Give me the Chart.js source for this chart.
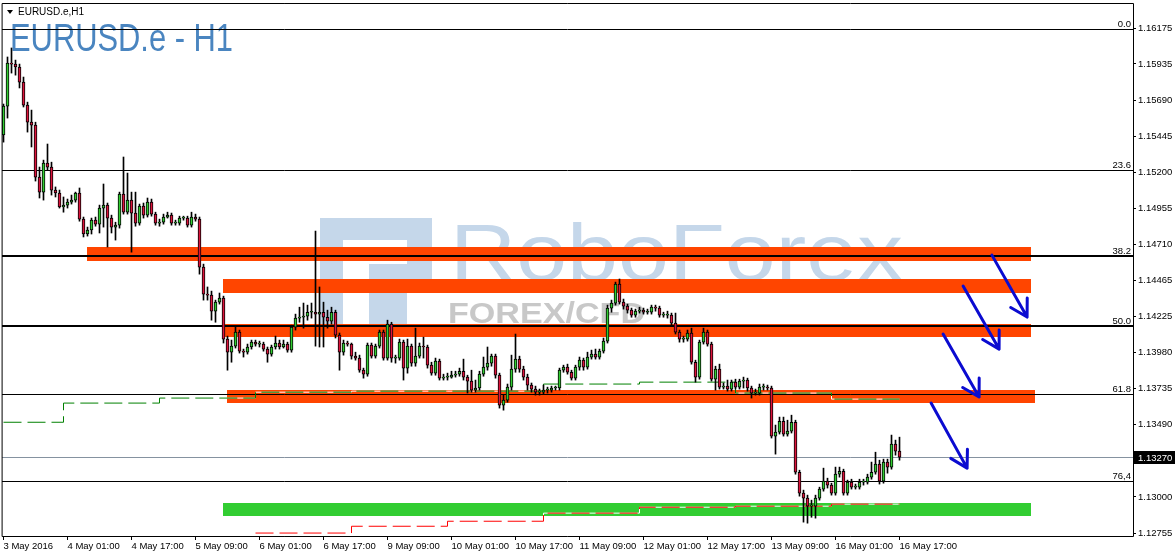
<!DOCTYPE html>
<html>
<head>
<meta charset="utf-8">
<script src="https://cdn.jsdelivr.net/npm/chart.js@4.4.1/dist/chart.umd.min.js"></script>
<style>
    html, body { margin: 0; padding: 0; background: #fff; }
    #wrap { width: 1175px; height: 558px; }
</style>
</head>
<body>
<div id="wrap"><canvas id="chart" width="1175" height="558"></canvas></div>
<script>
// EURUSD.e H1, 3 May 09:00 .. 16 May 17:00 (one bar per hour)
const opens = [
    1.15453, 1.15649, 1.15941, 1.15934, 1.15914, 1.15812, 1.15656, 1.15540, 1.15520, 1.15168,
    1.15066, 1.15263, 1.15236, 1.15080, 1.15060, 1.14965, 1.14978, 1.14998, 1.15012, 1.15060,
    1.14883, 1.14782, 1.14809, 1.14876, 1.14849, 1.14958, 1.14978, 1.14890, 1.14829, 1.14842,
    1.15053, 1.14930, 1.15012, 1.14924, 1.14856, 1.14971, 1.14910, 1.14998, 1.14917, 1.14856,
    1.14862, 1.14897, 1.14910, 1.14856, 1.14856, 1.14890, 1.14890, 1.14842, 1.14897, 1.14883,
    1.14558, 1.14375, 1.14368, 1.14259, 1.14320, 1.14348, 1.14070, 1.13981, 1.14022, 1.14117,
    1.13988, 1.13981, 1.14016, 1.14049, 1.14036, 1.14036, 1.14002, 1.13968, 1.14016, 1.14043,
    1.14016, 1.14036, 1.13995, 1.14151, 1.14212, 1.14218, 1.14225, 1.14252, 1.14252, 1.14239,
    1.14252, 1.14218, 1.14191, 1.14252, 1.14097, 1.13981, 1.14043, 1.14036, 1.13954, 1.13941,
    1.13859, 1.13832, 1.14029, 1.13954, 1.14022, 1.14117, 1.13941, 1.14171, 1.13941, 1.13941,
    1.14049, 1.13873, 1.14022, 1.13907, 1.13954, 1.14022, 1.14016, 1.13893, 1.13839, 1.13920,
    1.13805, 1.13812, 1.13812, 1.13825, 1.13832, 1.13852, 1.13812, 1.13785, 1.13724, 1.13738,
    1.13832, 1.13880, 1.13907, 1.13954, 1.13825, 1.13622, 1.13656, 1.13744, 1.13866, 1.13934,
    1.13866, 1.13812, 1.13758, 1.13731, 1.13710, 1.13710, 1.13724, 1.13724, 1.13738, 1.13738,
    1.13859, 1.13880, 1.13845, 1.13805, 1.13880, 1.13927, 1.13880, 1.13948, 1.13968, 1.13948,
    1.13988, 1.14056, 1.14280, 1.14314, 1.14443, 1.14320, 1.14293, 1.14266, 1.14232, 1.14259,
    1.14266, 1.14252, 1.14252, 1.14286, 1.14280, 1.14232, 1.14232, 1.14232, 1.14178, 1.14117,
    1.14070, 1.14070, 1.14111, 1.13913, 1.13812, 1.14049, 1.14117, 1.14036, 1.13798, 1.13866,
    1.13744, 1.13751, 1.13731, 1.13778, 1.13744, 1.13785, 1.13792, 1.13738, 1.13704, 1.13704,
    1.13744, 1.13744, 1.13738, 1.13412, 1.13439, 1.13513, 1.13426, 1.13446, 1.13506, 1.13167,
    1.13026, 1.12992, 1.12937, 1.12937, 1.12992, 1.13053, 1.13107, 1.13080, 1.13026, 1.13154,
    1.13174, 1.13026, 1.13100, 1.13066, 1.13066, 1.13100, 1.13100, 1.13134, 1.13167, 1.13222,
    1.13107, 1.13236, 1.13202, 1.13358, 1.13310
];
const highs = [
    1.15663, 1.15982, 1.16043, 1.15961, 1.15934, 1.15846, 1.15676, 1.15622, 1.15540, 1.15236,
    1.15283, 1.15392, 1.15269, 1.15101, 1.15080, 1.15033, 1.15019, 1.15046, 1.15066, 1.15094,
    1.14897, 1.14829, 1.14890, 1.14897, 1.14978, 1.15121, 1.14992, 1.14910, 1.14862, 1.15066,
    1.15304, 1.15195, 1.15066, 1.15066, 1.14985, 1.14992, 1.15026, 1.15019, 1.14930, 1.14883,
    1.14917, 1.14930, 1.14924, 1.14876, 1.14903, 1.14903, 1.14903, 1.14930, 1.14917, 1.14897,
    1.14578, 1.14423, 1.14395, 1.14334, 1.14382, 1.14361, 1.14090, 1.14063, 1.14151, 1.14131,
    1.14002, 1.14036, 1.14063, 1.14063, 1.14056, 1.14049, 1.14016, 1.14029, 1.14090, 1.14063,
    1.14063, 1.14049, 1.14164, 1.14239, 1.14286, 1.14314, 1.14300, 1.14314, 1.14802, 1.14423,
    1.14320, 1.14266, 1.14286, 1.14266, 1.14111, 1.14063, 1.14056, 1.14043, 1.13981, 1.13961,
    1.13873, 1.14043, 1.14043, 1.14036, 1.14131, 1.14131, 1.14198, 1.14184, 1.13961, 1.14070,
    1.14063, 1.14070, 1.14036, 1.14144, 1.14043, 1.14083, 1.14029, 1.13913, 1.13941, 1.13934,
    1.13832, 1.13839, 1.13852, 1.13852, 1.13873, 1.13934, 1.13825, 1.13859, 1.13792, 1.13852,
    1.13948, 1.14016, 1.13968, 1.13968, 1.13839, 1.13690, 1.13765, 1.13961, 1.14104, 1.13954,
    1.13886, 1.13832, 1.13772, 1.13751, 1.13731, 1.13758, 1.13744, 1.13751, 1.13751, 1.13873,
    1.13893, 1.13900, 1.13859, 1.13893, 1.13948, 1.13941, 1.13981, 1.13995, 1.14002, 1.14002,
    1.14077, 1.14300, 1.14334, 1.14456, 1.14477, 1.14341, 1.14307, 1.14280, 1.14273, 1.14286,
    1.14280, 1.14273, 1.14300, 1.14300, 1.14293, 1.14252, 1.14259, 1.14246, 1.14246, 1.14131,
    1.14090, 1.14131, 1.14144, 1.13927, 1.14063, 1.14144, 1.14131, 1.14049, 1.13886, 1.13900,
    1.13772, 1.13792, 1.13792, 1.13798, 1.13798, 1.13812, 1.13805, 1.13751, 1.13731, 1.13765,
    1.13765, 1.13758, 1.13751, 1.13487, 1.13541, 1.13541, 1.13520, 1.13554, 1.13520, 1.13181,
    1.13046, 1.13012, 1.12978, 1.13012, 1.13066, 1.13195, 1.13127, 1.13093, 1.13202, 1.13202,
    1.13188, 1.13114, 1.13120, 1.13087, 1.13120, 1.13120, 1.13154, 1.13236, 1.13303, 1.13249,
    1.13256, 1.13256, 1.13419, 1.13385, 1.13405
];
const lows = [
    1.15405, 1.15568, 1.15873, 1.15859, 1.15772, 1.15643, 1.15473, 1.15372, 1.15141, 1.15026,
    1.15012, 1.15215, 1.15046, 1.15033, 1.14958, 1.14930, 1.14958, 1.14985, 1.14998, 1.14869,
    1.14762, 1.14768, 1.14782, 1.14835, 1.14789, 1.14829, 1.14694, 1.14789, 1.14741, 1.14822,
    1.14917, 1.14917, 1.14659, 1.14835, 1.14842, 1.14890, 1.14897, 1.14903, 1.14842, 1.14835,
    1.14849, 1.14890, 1.14842, 1.14842, 1.14842, 1.14876, 1.14829, 1.14829, 1.14869, 1.14510,
    1.14334, 1.14334, 1.14198, 1.14184, 1.14307, 1.14043, 1.13859, 1.13913, 1.14009, 1.13975,
    1.13948, 1.13968, 1.14002, 1.14022, 1.14016, 1.13988, 1.13913, 1.13954, 1.14002, 1.14002,
    1.14009, 1.13981, 1.13981, 1.14131, 1.14184, 1.14144, 1.14198, 1.14212, 1.14022, 1.14016,
    1.14016, 1.14144, 1.14171, 1.14077, 1.13859, 1.13961, 1.14022, 1.13934, 1.13927, 1.13845,
    1.13805, 1.13818, 1.13941, 1.13941, 1.14009, 1.13927, 1.13927, 1.13913, 1.13907, 1.13927,
    1.13792, 1.13839, 1.13886, 1.13886, 1.13941, 1.13941, 1.13873, 1.13825, 1.13825, 1.13792,
    1.13792, 1.13792, 1.13805, 1.13812, 1.13818, 1.13792, 1.13704, 1.13710, 1.13710, 1.13724,
    1.13818, 1.13859, 1.13886, 1.13805, 1.13602, 1.13588, 1.13642, 1.13724, 1.13845, 1.13845,
    1.13792, 1.13724, 1.13710, 1.13690, 1.13690, 1.13697, 1.13704, 1.13710, 1.13724, 1.13724,
    1.13845, 1.13832, 1.13792, 1.13792, 1.13859, 1.13859, 1.13866, 1.13934, 1.13934, 1.13934,
    1.13975, 1.14043, 1.14252, 1.14300, 1.14307, 1.14273, 1.14246, 1.14218, 1.14218, 1.14246,
    1.14239, 1.14239, 1.14239, 1.14259, 1.14218, 1.14218, 1.14212, 1.14164, 1.14104, 1.14049,
    1.14049, 1.14056, 1.13900, 1.13778, 1.13798, 1.14036, 1.14022, 1.13785, 1.13724, 1.13731,
    1.13731, 1.13717, 1.13717, 1.13731, 1.13731, 1.13738, 1.13717, 1.13670, 1.13690, 1.13690,
    1.13724, 1.13724, 1.13399, 1.13290, 1.13426, 1.13412, 1.13412, 1.13433, 1.13154, 1.13005,
    1.12829, 1.12822, 1.12862, 1.12856, 1.12978, 1.13039, 1.13060, 1.13012, 1.13012, 1.13134,
    1.13012, 1.13012, 1.13053, 1.13053, 1.13053, 1.13080, 1.13087, 1.13120, 1.13154, 1.13087,
    1.13093, 1.13161, 1.13188, 1.13283, 1.13249
];
const closes = [
    1.15649, 1.15941, 1.15934, 1.15914, 1.15812, 1.15656, 1.15540, 1.15520, 1.15168, 1.15066,
    1.15263, 1.15236, 1.15080, 1.15060, 1.14965, 1.14978, 1.14998, 1.15012, 1.15060, 1.14883,
    1.14782, 1.14809, 1.14876, 1.14849, 1.14958, 1.14978, 1.14890, 1.14829, 1.14842, 1.15053,
    1.14930, 1.15012, 1.14924, 1.14856, 1.14971, 1.14910, 1.14998, 1.14917, 1.14856, 1.14862,
    1.14897, 1.14910, 1.14856, 1.14856, 1.14890, 1.14890, 1.14842, 1.14897, 1.14883, 1.14558,
    1.14375, 1.14368, 1.14259, 1.14320, 1.14348, 1.14070, 1.13981, 1.14022, 1.14117, 1.13988,
    1.13981, 1.14016, 1.14049, 1.14036, 1.14036, 1.14002, 1.13968, 1.14016, 1.14043, 1.14016,
    1.14036, 1.13995, 1.14151, 1.14212, 1.14218, 1.14225, 1.14252, 1.14252, 1.14239, 1.14252,
    1.14218, 1.14191, 1.14252, 1.14097, 1.13981, 1.14043, 1.14036, 1.13954, 1.13941, 1.13859,
    1.13832, 1.14029, 1.13954, 1.14022, 1.14117, 1.13941, 1.14171, 1.13941, 1.13941, 1.14049,
    1.13873, 1.14022, 1.13907, 1.13954, 1.14022, 1.14016, 1.13893, 1.13839, 1.13920, 1.13805,
    1.13812, 1.13812, 1.13825, 1.13832, 1.13852, 1.13812, 1.13785, 1.13724, 1.13738, 1.13832,
    1.13880, 1.13907, 1.13954, 1.13825, 1.13622, 1.13656, 1.13744, 1.13866, 1.13934, 1.13866,
    1.13812, 1.13758, 1.13731, 1.13710, 1.13710, 1.13724, 1.13724, 1.13738, 1.13738, 1.13859,
    1.13880, 1.13845, 1.13805, 1.13880, 1.13927, 1.13880, 1.13948, 1.13968, 1.13948, 1.13988,
    1.14056, 1.14280, 1.14314, 1.14443, 1.14320, 1.14293, 1.14266, 1.14232, 1.14259, 1.14266,
    1.14252, 1.14252, 1.14286, 1.14280, 1.14232, 1.14232, 1.14232, 1.14178, 1.14117, 1.14070,
    1.14070, 1.14111, 1.13913, 1.13812, 1.14049, 1.14117, 1.14036, 1.13798, 1.13866, 1.13744,
    1.13751, 1.13731, 1.13778, 1.13744, 1.13785, 1.13792, 1.13738, 1.13704, 1.13704, 1.13744,
    1.13744, 1.13738, 1.13412, 1.13439, 1.13513, 1.13426, 1.13446, 1.13506, 1.13167, 1.13026,
    1.12992, 1.12937, 1.12937, 1.12992, 1.13053, 1.13107, 1.13080, 1.13026, 1.13154, 1.13174,
    1.13026, 1.13100, 1.13066, 1.13066, 1.13100, 1.13100, 1.13134, 1.13167, 1.13222, 1.13107,
    1.13236, 1.13202, 1.13358, 1.13310, 1.13270
];

// axis ticks
const xTickIdx = [0, 16, 32, 48, 64, 80, 96, 112, 128, 144, 160, 176, 192, 208, 224];
const xLabels = ["3 May 2016", "4 May 01:00", "4 May 17:00", "5 May 09:00", "6 May 01:00", "6 May 17:00",
    "9 May 09:00", "10 May 01:00", "10 May 17:00", "11 May 09:00", "12 May 01:00", "12 May 17:00",
    "13 May 09:00", "16 May 01:00", "16 May 17:00"];
const yTicks = [1.16175, 1.15935, 1.15690, 1.15445, 1.15200, 1.14955, 1.14710, 1.14465, 1.14225,
    1.13980, 1.13735, 1.13490, 1.13000, 1.12755];
const lastPrice = 1.13270;

// fibonacci retracement levels
const fibLabels = ["0.0", "23.6", "38.2", "50.0", "61.8", "76,4"];
const fibPrices = [1.16171, 1.15219, 1.14634, 1.14158, 1.13697, 1.13109];

// daily step lines (start bar of each day)
const greenIdx = [0, 15, 39, 63, 87, 111, 135, 159, 183, 207, 224];
const greenVal = [1.13506, 1.13636, 1.13670, 1.13710, 1.13717, 1.13717, 1.13765, 1.13778, 1.13704, 1.13663, 1.13663];
const redIdx = [63, 87, 111, 135, 159, 183, 207, 224];
const redVal = [1.12755, 1.12801, 1.12835, 1.12890, 1.12930, 1.12937, 1.12951, 1.12951];

// zones (bar index from/to, price top/bottom)
const zoneFrom = [20.9, 54.9, 54.9, 55.9, 54.9];
const zoneTo = [256.9, 256.9, 256.9, 257.9, 256.9];
const zoneTop = [1.14694, 1.14477, 1.14171, 1.13724, 1.12958];
const zoneBottom = [1.14602, 1.14382, 1.14084, 1.13636, 1.12869];
const zoneKind = ["sell", "sell", "sell", "sell", "buy"];

// hand drawn arrows
const arrowFromIdx = [247.1, 239.9, 234.9, 231.9];
const arrowFromPrice = [1.14639, 1.14429, 1.14104, 1.13636];
const arrowToIdx = [255.9, 248.9, 243.9, 240.9];
const arrowToPrice = [1.14219, 1.14002, 1.13677, 1.13195];

const FONT = '"Liberation Sans", Arial, sans-serif';
const UP = "#32cd32";
const DOWN = "#dc143c";

const wicks = highs.map((h, i) => ({ x: i, y: [lows[i], h] }));
const bodies = opens.map((o, i) => ({ x: i, y: [o, closes[i]] }));
const bodyColors = opens.map((o, i) => (closes[i] >= o ? UP : DOWN));
const greenPts = greenIdx.map((x, i) => ({ x, y: greenVal[i] }));
const redPts = redIdx.map((x, i) => ({ x, y: redVal[i] }));

// background: watermark, title, zones, levels
const backgroundPlugin = {
    id: "background",
    beforeDatasetsDraw(chart) {
        const { ctx, chartArea: a, scales } = chart;
        const px = (v) => scales.x.getPixelForValue(v);
        const py = (v) => scales.y.getPixelForValue(v);
        ctx.save();

        // RoboForex watermark
        ctx.fillStyle = "#c5d7ea";
        ctx.fillRect(320, 218, 112, 110);
        ctx.fillStyle = "#fff";
        ctx.fillRect(343, 240, 64, 24);
        ctx.fillRect(343, 264, 26, 64);
        ctx.fillRect(407, 290, 25, 38);
        ctx.fillStyle = "#c5d7ea";
        ctx.font = "80px " + FONT;
        let w = ctx.measureText("RoboForex").width;
        ctx.save();
        ctx.translate(450, 280);
        ctx.scale(453 / w, 1);
        ctx.fillText("RoboForex", 0, 0);
        ctx.restore();
        ctx.fillStyle = "#c8c8c8";
        ctx.font = "bold 29px " + FONT;
        w = ctx.measureText("FOREX/CFD").width;
        ctx.save();
        ctx.translate(448, 323);
        ctx.scale(197 / w, 1);
        ctx.fillText("FOREX/CFD", 0, 0);
        ctx.restore();

        // big symbol title
        ctx.fillStyle = "#4a85c0";
        ctx.font = "39px " + FONT;
        w = ctx.measureText("EURUSD.e - H1").width;
        ctx.save();
        ctx.translate(10, 51);
        ctx.scale(223 / w, 1);
        ctx.fillText("EURUSD.e - H1", 0, 0);
        ctx.restore();

        // zones
        zoneFrom.forEach((f, i) => {
            const x1 = Math.round(px(f));
            const x2 = Math.round(px(zoneTo[i]));
            const y1 = Math.round(py(zoneTop[i]));
            const y2 = Math.round(py(zoneBottom[i]));
            ctx.fillStyle = zoneKind[i] === "buy" ? "#32cd32" : "#ff4500";
            ctx.fillRect(x1, y1, x2 - x1, y2 - y1);
        });

        // fibonacci lines
        ctx.strokeStyle = "#000";
        fibPrices.forEach((p, i) => {
            const thick = fibLabels[i] === "38.2" || fibLabels[i] === "50.0";
            ctx.lineWidth = thick ? 2 : 1;
            const y = thick ? Math.round(py(p)) : Math.round(py(p)) + 0.5;
            ctx.beginPath();
            ctx.moveTo(a.left, y);
            ctx.lineTo(a.right, y);
            ctx.stroke();
        });

        // last price line
        ctx.strokeStyle = "#8592a0";
        ctx.lineWidth = 1;
        const yl = Math.round(py(lastPrice)) + 0.5;
        ctx.beginPath();
        ctx.moveTo(a.left, yl);
        ctx.lineTo(a.right, yl);
        ctx.stroke();
        ctx.restore();
    },
    afterDraw(chart) {
        const { ctx, chartArea: a, scales } = chart;
        const px = (v) => scales.x.getPixelForValue(v);
        const py = (v) => scales.y.getPixelForValue(v);
        ctx.save();

        // arrows
        ctx.strokeStyle = "#0b0bd0";
        ctx.lineWidth = 3;
        ctx.lineCap = "round";
        ctx.lineJoin = "round";
        arrowFromIdx.forEach((f, i) => {
            const x1 = px(f), y1 = py(arrowFromPrice[i]);
            const x2 = px(arrowToIdx[i]), y2 = py(arrowToPrice[i]);
            const ang = Math.atan2(y1 - y2, x1 - x2);
            const len = 19;
            ctx.beginPath();
            ctx.moveTo(x1, y1);
            ctx.lineTo(x2, y2);
            ctx.moveTo(x2 + len * Math.cos(ang - Math.PI / 6), y2 + len * Math.sin(ang - Math.PI / 6));
            ctx.lineTo(x2, y2);
            ctx.lineTo(x2 + len * Math.cos(ang + Math.PI / 6), y2 + len * Math.sin(ang + Math.PI / 6));
            ctx.stroke();
        });

        // frame
        ctx.strokeStyle = "#000";
        ctx.lineWidth = 1;
        ctx.strokeRect(a.left + 0.5, a.top + 0.5, a.right - a.left, a.bottom - a.top);

        // level labels
        ctx.fillStyle = "#000";
        ctx.font = "9.5px " + FONT;
        ctx.textAlign = "right";
        ctx.textBaseline = "alphabetic";
        fibPrices.forEach((p, i) => {
            ctx.fillText(fibLabels[i], a.right - 2, Math.round(py(p)) - 2);
        });

        // last price tag
        const yl = Math.round(py(lastPrice));
        ctx.fillStyle = "#000";
        ctx.fillRect(a.right + 1, yl - 6, 1175 - a.right - 1, 13);
        ctx.fillStyle = "#fff";
        ctx.textAlign = "left";
        ctx.textBaseline = "middle";
        ctx.fillText(lastPrice.toFixed(5), a.right + 5, yl + 1);

        // window caption
        ctx.fillStyle = "#000";
        ctx.beginPath();
        ctx.moveTo(7, 10);
        ctx.lineTo(13, 10);
        ctx.lineTo(10, 14);
        ctx.closePath();
        ctx.fill();
        ctx.font = "10px " + FONT;
        ctx.textBaseline = "alphabetic";
        ctx.fillText("EURUSD.e,H1", 18, 15);
        ctx.restore();
    },
};

new Chart(document.getElementById("chart"), {
    type: "bar",
    data: {
        datasets: [
            {
                label: "Bodies",
                data: bodies,
                backgroundColor: bodyColors,
                borderColor: "#000",
                borderWidth: 1,
                borderSkipped: false,
                barThickness: 3,
                minBarLength: 1,
                grouped: false,
                order: 0,
            },
            {
                label: "Wicks",
                data: wicks,
                backgroundColor: "#000",
                borderWidth: 0,
                barThickness: 1,
                grouped: false,
                order: 1,
            },
            {
                type: "line",
                label: "Daily low",
                data: greenPts,
                stepped: true,
                borderColor: "#008000",
                borderWidth: 1,
                borderDash: [18, 6],
                pointRadius: 0,
                fill: false,
                order: 2,
            },
            {
                type: "line",
                label: "Daily low gaps",
                data: greenPts,
                stepped: true,
                borderColor: "#fff",
                borderWidth: 1,
                pointRadius: 0,
                fill: false,
                order: 3,
            },
            {
                type: "line",
                label: "Trail",
                data: redPts,
                stepped: true,
                borderColor: "#ff0000",
                borderWidth: 1,
                borderDash: [18, 6],
                pointRadius: 0,
                fill: false,
                order: 2,
            },
            {
                type: "line",
                label: "Trail gaps",
                data: redPts,
                stepped: true,
                borderColor: "#fff",
                borderWidth: 1,
                pointRadius: 0,
                fill: false,
                order: 3,
            },
        ],
    },
    options: {
        responsive: false,
        animation: false,
        devicePixelRatio: 1,
        layout: { padding: { left: 2, top: 3, right: 0, bottom: 0 } },
        plugins: {
            legend: { display: false },
            tooltip: { enabled: false },
        },
        scales: {
            x: {
                type: "linear",
                min: -0.375,
                max: 282.375,
                offset: false,
                grid: { drawOnChartArea: false, tickLength: 4, color: "#000", offset: false },
                border: { display: false },
                ticks: {
                    autoSkip: false,
                    maxRotation: 0,
                    minRotation: 0,
                    align: "start",
                    padding: 1,
                    color: "#000",
                    font: { family: FONT, size: 9.5 },
                    callback: (value, index) => xLabels[index],
                },
                afterBuildTicks: (scale) => {
                    scale.ticks = xTickIdx.map((v) => ({ value: v }));
                },
                afterFit: (scale) => {
                    scale.height = 22;
                    scale.paddingLeft = 0;
                    scale.paddingRight = 0;
                },
            },
            y: {
                type: "linear",
                position: "right",
                min: 1.12735,
                max: 1.16348,
                grid: { drawOnChartArea: false, tickLength: 3, color: "#000" },
                border: { display: false },
                ticks: {
                    autoSkip: false,
                    padding: 2,
                    color: "#000",
                    font: { family: FONT, size: 9.5 },
                    callback: (value) => value.toFixed(5),
                },
                afterBuildTicks: (scale) => {
                    scale.ticks = yTicks.map((v) => ({ value: v }));
                },
                afterFit: (scale) => {
                    scale.width = 42;
                    scale.paddingTop = 0;
                    scale.paddingBottom = 0;
                },
            },
        },
    },
    plugins: [backgroundPlugin],
});
</script>
</body>
</html>
